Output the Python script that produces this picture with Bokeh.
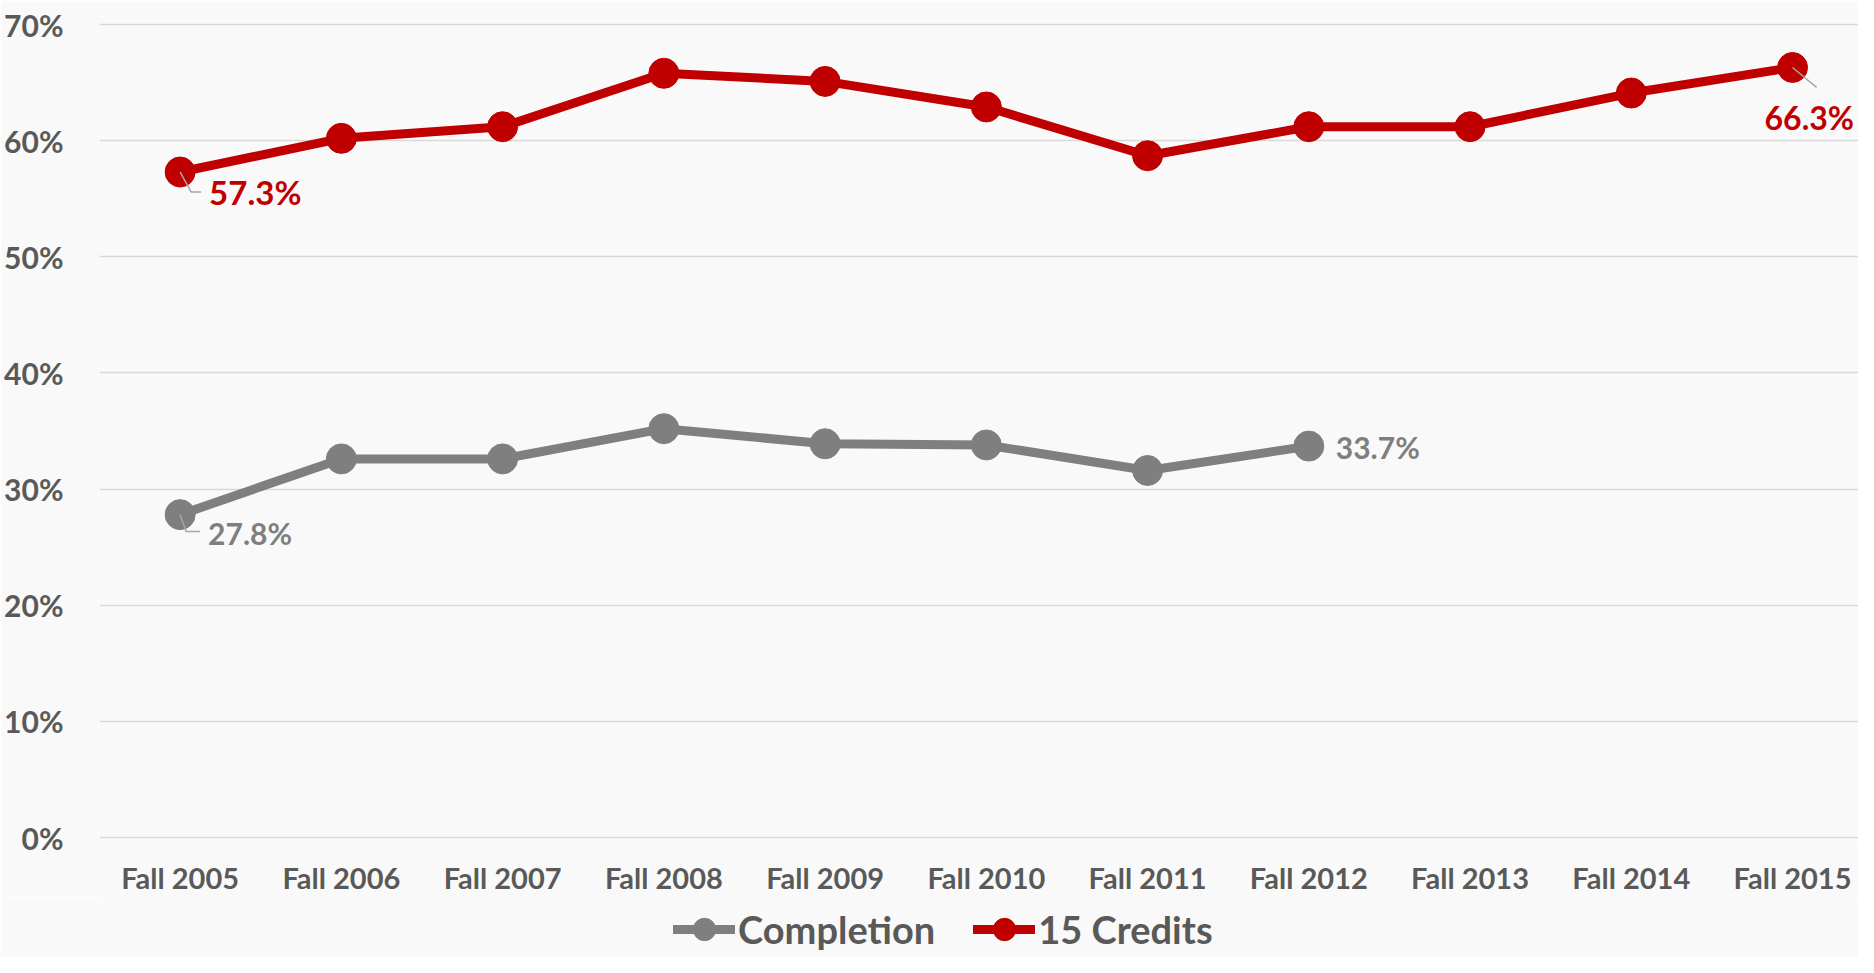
from bokeh.plotting import figure
from bokeh.layouts import column
from bokeh.models import (Range1d, FixedTicker, Legend, LegendItem)
from bokeh.core.properties import value
from bokeh.embed import file_html
from bokeh.resources import INLINE

# ---- data ----
terms = ["Fall 2005", "Fall 2006", "Fall 2007", "Fall 2008", "Fall 2009", "Fall 2010",
         "Fall 2011", "Fall 2012", "Fall 2013", "Fall 2014", "Fall 2015"]
credits15 = [57.3, 60.2, 61.2, 65.8, 65.1, 62.9, 58.7, 61.2, 61.2, 64.1, 66.3]
completion = [27.8, 32.6, 32.6, 35.2, 33.9, 33.8, 31.6, 33.7]
y_ticks = [0, 10, 20, 30, 40, 50, 60, 70]
series_names = ["Completion", "15 Credits"]

# ---- style ----
RED = "#C00000"
GRAY = "#7F7F7F"
TXT = "#595959"
FONT = "Lato"
BG = "#F9F9F9"

W = 1858
H1, H2 = 897, 60
BL, BR, BT, BB = 99, 0, 16, 52
X0, X1 = -0.5, 10.409
Y0, Y1 = -0.515, 70.69

p = figure(width=W, height=H1, output_backend="svg", toolbar_location=None,
           x_range=Range1d(X0, X1), y_range=Range1d(Y0, Y1),
           min_border_left=BL, min_border_right=BR, min_border_top=BT, min_border_bottom=BB)
p.background_fill_color = BG
p.border_fill_color = BG
p.outline_line_color = None

frame_w = W - BL - BR
frame_h = H1 - BT - BB
px_x = frame_w / (X1 - X0)
px_y = frame_h / (Y1 - Y0)

# axes
p.xaxis.ticker = FixedTicker(ticks=list(range(len(terms))))
p.xaxis.major_label_overrides = {i: t for i, t in enumerate(terms)}
p.yaxis.ticker = FixedTicker(ticks=y_ticks)
p.yaxis.major_label_overrides = {v: f"{v}%" for v in y_ticks}
for ax in (p.xaxis, p.yaxis):
    ax.axis_line_color = None
    ax.major_tick_line_color = None
    ax.minor_tick_line_color = None
    ax.major_tick_out = 0
    ax.major_label_text_font = FONT
    ax.major_label_text_font_style = "bold"
    ax.major_label_text_color = TXT
p.xaxis.major_label_text_font_size = "29px"
p.xaxis.major_label_standoff = 16
p.yaxis.major_label_text_font_size = "30px"
p.yaxis.major_label_standoff = 36

p.xgrid.grid_line_color = None
p.ygrid.grid_line_color = "#D9D9D9"
p.ygrid.grid_line_width = 1.5

# series
xc = list(range(len(credits15)))
xg = list(range(len(completion)))
p.line(xg, completion, line_color=GRAY, line_width=9, line_join="round")
p.scatter(xg, completion, size=30, fill_color=GRAY, line_color=GRAY)
p.line(xc, credits15, line_color=RED, line_width=9, line_join="round")
p.scatter(xc, credits15, size=30, fill_color=RED, line_color=RED)

# leader lines (offsets in pixels converted to data units)
def leader(x, y, pts):
    return ([x + dx / px_x for dx, dy in pts], [y - dy / px_y for dx, dy in pts])

lead = [
    leader(0, credits15[0], [(0, 0), (11, 20), (21, 20)]),
    leader(0, completion[0], [(0, 0), (6, 17), (20, 17)]),
    leader(len(credits15) - 1, credits15[-1], [(0, 0), (24, 20)]),
]
p.multi_line([l[0] for l in lead], [l[1] for l in lead], line_color="#A6A6A6", line_width=1.5)

# data labels
def label(x, y, txt, color, size, dx, dy):
    p.text([x], [y], text=[txt], text_color=color, text_font=value(FONT),
           text_font_style="bold", text_font_size=size, text_align="left",
           text_baseline="middle", x_offset=dx, y_offset=dy)

label(0, credits15[0], f"{credits15[0]:.1f}%", RED, "33px", 29, 20)
label(len(credits15) - 1, credits15[-1], f"{credits15[-1]:.1f}%", RED, "32px", -28, 50)
label(0, completion[0], f"{completion[0]:.1f}%", GRAY, "30px", 28, 18)
label(len(completion) - 1, completion[-1], f"{completion[-1]:.1f}%", GRAY, "30px", 27, 1)

# ---- legend strip (same series, drawn out of its visible range; only the legend shows) ----
q = figure(width=W, height=H2, output_backend="svg", toolbar_location=None,
           x_range=Range1d(0, 1), y_range=Range1d(-2, -1),
           min_border_left=BL, min_border_right=0, min_border_top=0, min_border_bottom=0)
q.axis.visible = False
q.grid.visible = False
q.background_fill_color = BG
q.border_fill_color = BG
q.outline_line_color = None

items = []
for name, xs, ys, col in zip(series_names, [xg, xc], [completion, credits15], [GRAY, RED]):
    ln = q.line(xs, ys, line_color=col, line_width=9, line_cap="round")
    sc = q.scatter(xs, ys, size=30, fill_color=col, line_color=col)
    items.append(LegendItem(label=name, renderers=[ln, sc]))

legend = Legend(items=items, location=(574, 0), orientation="horizontal",
                background_fill_alpha=0, border_line_alpha=0,
                label_text_font=FONT, label_text_font_style="bold",
                label_text_font_size="38px", label_text_color=TXT,
                glyph_width=62, glyph_height=56, spacing=38, padding=0, margin=0,
                label_standoff=3)
q.add_layout(legend)

layout = column(p, q, spacing=0)
open("out.html", "w").write(file_html(layout, INLINE))
